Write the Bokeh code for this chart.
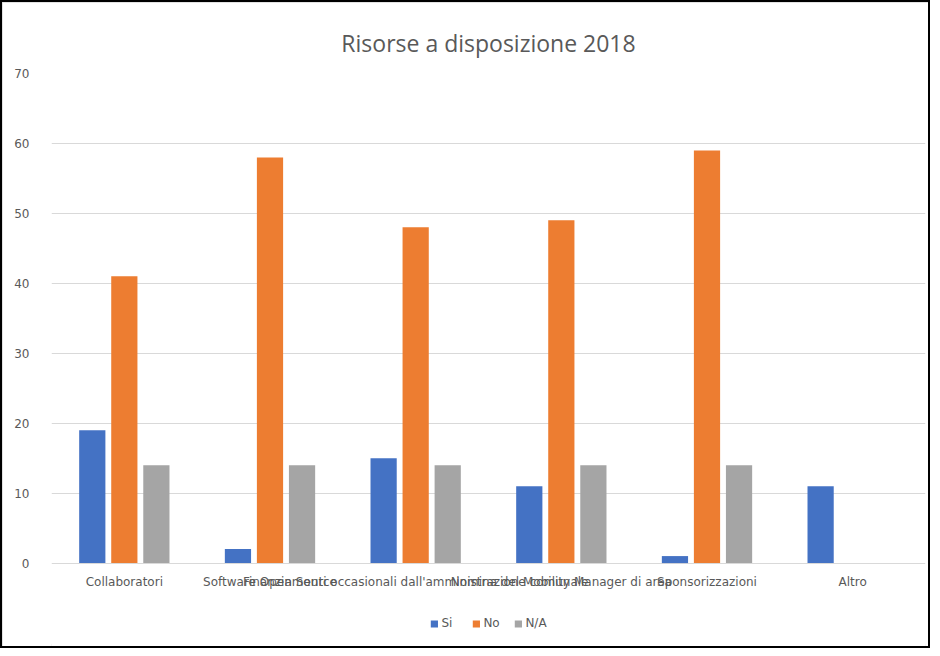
from bokeh.plotting import figure
from bokeh.models import ColumnDataSource, Legend, LegendItem, FixedTicker, Range1d
from bokeh.embed import file_html
from bokeh.resources import INLINE

categories = ["Collaboratori", "Software Open Source",
              "Finanziamenti occasionali dall'amministrazione comunale",
              "Nomina del Mobility Manager di area",
              "Sponsorizzazioni", "Altro"]
si = [19, 2, 15, 11, 1, 11]
no = [41, 58, 48, 49, 59, 0]
na = [14, 14, 14, 14, 14, 0]
series_names = ["Si", "No", "N/A"]
colors = ["#4472C4", "#ED7D31", "#A5A5A5"]
y_ticks = [0, 10, 20, 30, 40, 50, 60, 70]

x = [i + 0.5 for i in range(len(categories))]
offsets = [-0.22, 0.0, 0.22]

FONT = "DejaVu Sans"

p = figure(width=930, height=648, output_backend="svg", toolbar_location=None,
           x_range=Range1d(0, len(categories)), y_range=Range1d(-12.5, 70))
p.styles = {"border": "2px solid black", "box-shadow": "inset 0 0 0 2px #d9d9d9"}
p.min_border_left = 49
p.min_border_right = 7
p.min_border_top = 71
p.min_border_bottom = 0
p.outline_line_color = None

p.title.text = "Risorse a disposizione 2018"
p.title.align = "center"
p.title.text_font = "Open Sans"
p.title.text_font_size = "23px"
p.title.text_font_style = "normal"
p.title.text_color = "#595959"
p.title.standoff = 30

renderers = []
for vals, off, col in zip([si, no, na], offsets, colors):
    src = ColumnDataSource(dict(x=[xi + off for xi in x], top=vals))
    r = p.vbar(x="x", top="top", bottom=0, width=0.18, source=src,
               fill_color=col, line_color=None)
    renderers.append(r)

p.xaxis.ticker = FixedTicker(ticks=x)
p.xaxis.major_label_overrides = {xi: c for xi, c in zip(x, categories)}
p.xaxis.fixed_location = 0
p.yaxis.ticker = FixedTicker(ticks=y_ticks)
for ax in [p.xaxis[0], p.yaxis[0]]:
    ax.axis_line_color = None
    ax.major_tick_line_color = None
    ax.minor_tick_line_color = None
    ax.major_label_text_font = FONT
    ax.major_label_text_font_size = "12px"
    ax.major_label_text_color = "#595959"
p.xaxis.major_label_standoff = 6
p.yaxis.major_label_standoff = 16
p.xgrid.grid_line_color = None
p.ygrid.grid_line_color = "#d9d9d9"

legend = Legend(items=[LegendItem(label=n, renderers=[r]) for n, r in zip(series_names, renderers)],
                orientation="horizontal", location="bottom_center")
legend.label_text_font = FONT
legend.label_text_font_size = "12px"
legend.label_text_color = "#595959"
legend.glyph_width = 9
legend.glyph_height = 9
legend.label_standoff = 3
legend.spacing = 10
legend.border_line_color = None
legend.background_fill_alpha = 0
legend.padding = 4
legend.margin = 20
p.add_layout(legend, "center")

open("out.html", "w").write(file_html(p, INLINE))
